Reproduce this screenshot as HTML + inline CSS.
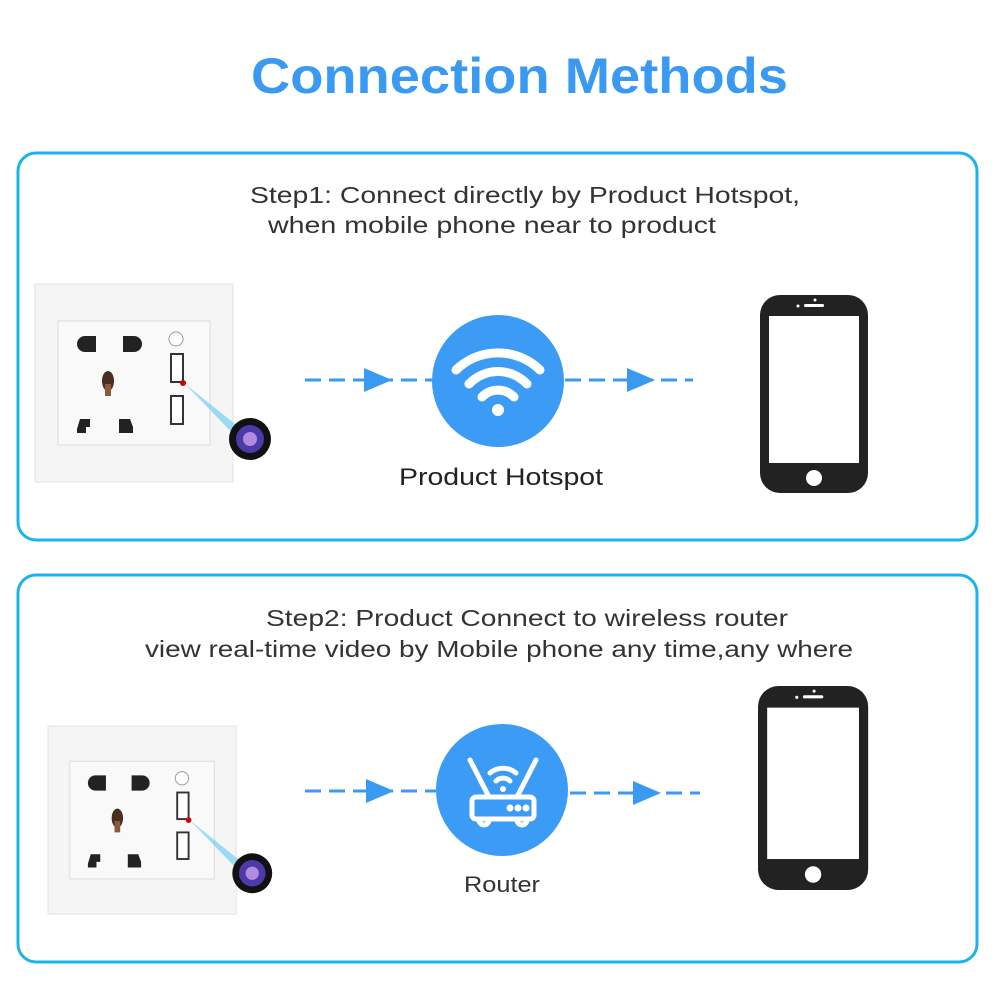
<!DOCTYPE html>
<html><head><meta charset="utf-8"><style>
html,body{margin:0;padding:0;background:#fff;width:1000px;height:1000px;overflow:hidden}
svg{display:block}
text{font-family:"Liberation Sans","DejaVu Sans",sans-serif}
</style></head><body>
<svg width="1000" height="1000" viewBox="0 0 1000 1000" xmlns="http://www.w3.org/2000/svg">
<defs>
<g id="sock">
  <rect x="0" y="0" width="198" height="198" fill="#f5f5f5" stroke="#e2e2e2"/>
  <rect x="23" y="37" width="152" height="124" fill="#f9f9f9" stroke="#dcdcdc"/>
  <path d="M50 52 h11 v16 h-11 a8 8 0 0 1 0-16z" fill="#222"/>
  <path d="M88 52 h11 a8 8 0 0 1 0 16 h-11z" fill="#222"/>
  <ellipse cx="73" cy="97" rx="6" ry="10" fill="#4a2f20"/>
  <rect x="70" y="100" width="6" height="12" fill="#8a5a3a"/>
  <path d="M42 145 l3-10 h10 v8 h-4 v6 h-9z" fill="#222"/>
  <path d="M84 135 h11 l3 8 v6 h-14z" fill="#222"/>
  <circle cx="141" cy="55" r="7" fill="#fff" stroke="#999"/>
  <rect x="136" y="70" width="12" height="28" fill="#fff" stroke="#333" stroke-width="2"/>
  <rect x="136" y="112" width="12" height="28" fill="#fff" stroke="#333" stroke-width="2"/>
  <circle cx="148" cy="99" r="3" fill="#c00"/>
  <path d="M149 99 L200 140 L210 162 Z" fill="#5ec8f5" opacity="0.6"/>
  <circle cx="215" cy="155" r="21" fill="#111"/>
  <circle cx="215" cy="155" r="14" fill="#4b3aa8"/>
  <circle cx="215" cy="155" r="7" fill="#b08be0"/>
</g>
<g id="phone">
  <rect x="0" y="0" width="108" height="198" rx="20" fill="#222"/>
  <rect x="9" y="21" width="90" height="147" fill="#fff"/>
  <circle cx="54" cy="183" r="8" fill="#fff"/>
  <rect x="44" y="9" width="20" height="3" rx="1.5" fill="#fff"/>
  <circle cx="38" cy="11" r="1.5" fill="#fff"/>
  <circle cx="55" cy="5" r="1.5" fill="#fff"/>
</g>
</defs>
<text x="251" y="93" font-size="50" font-weight="bold" fill="#3a9af2" textLength="537" lengthAdjust="spacingAndGlyphs">Connection Methods</text>

<rect x="18" y="153" width="959" height="387" rx="18" fill="none" stroke="#1cb3ec" stroke-width="3"/>
<rect x="18" y="575" width="959" height="387" rx="18" fill="none" stroke="#1cb3ec" stroke-width="3"/>

<text x="250" y="203" font-size="23" fill="#333" textLength="550" lengthAdjust="spacingAndGlyphs">Step1: Connect directly by Product Hotspot,</text>
<text x="268" y="233" font-size="23" fill="#333" textLength="448" lengthAdjust="spacingAndGlyphs">when mobile phone near to product</text>
<text x="266" y="626" font-size="23" fill="#333" textLength="522" lengthAdjust="spacingAndGlyphs">Step2: Product Connect to wireless router</text>
<text x="145" y="657" font-size="23" fill="#333" textLength="708" lengthAdjust="spacingAndGlyphs">view real-time video by Mobile phone any time,any where</text>

<use href="#sock" x="35" y="284"/>
<g transform="translate(48,726) scale(0.95)"><use href="#sock"/></g>

<use href="#phone" x="760" y="295"/>
<g transform="translate(758,686) scale(1.02,1.03)"><use href="#phone"/></g>

<g stroke="#3a9af2" stroke-width="3" stroke-dasharray="16,8" fill="none">
  <line x1="305" y1="380" x2="432" y2="380"/>
  <line x1="565" y1="380" x2="693" y2="380"/>
  <line x1="305" y1="791" x2="436" y2="791"/>
  <line x1="570" y1="793" x2="700" y2="793"/>
</g>
<g fill="#3a9af2">
  <path d="M364 368 L392 380 L364 392Z"/>
  <path d="M627 368 L655 380 L627 392Z"/>
  <path d="M366 779 L394 791 L366 803Z"/>
  <path d="M633 781 L661 793 L633 805Z"/>
</g>

<circle cx="498" cy="381" r="66" fill="#3c9bf5"/>
<g fill="none" stroke="#fff" stroke-width="9" stroke-linecap="round">
  <path d="M456 370 a60 60 0 0 1 84 0"/>
  <path d="M469 384 a40 40 0 0 1 58 0"/>
  <path d="M482 397 a22 22 0 0 1 32 0"/>
</g>
<circle cx="498" cy="410" r="6" fill="#fff"/>
<text x="399" y="485" font-size="24" fill="#222" textLength="204" lengthAdjust="spacingAndGlyphs">Product Hotspot</text>

<circle cx="502" cy="790" r="66" fill="#3c9bf5"/>
<g fill="none" stroke="#fff" stroke-width="5" stroke-linecap="round">
  <line x1="470" y1="760" x2="489" y2="797"/>
  <line x1="536" y1="760" x2="517" y2="797"/>
  <path d="M490 773 a20 20 0 0 1 26 0"/>
  <path d="M496 781 a10 10 0 0 1 14 0"/>
  <rect x="472" y="797" width="62" height="22" rx="4"/>
  <path d="M479 820 a5 5 0 0 0 10 0 M517 820 a5 5 0 0 0 10 0"/>
</g>
<g fill="#fff"><circle cx="510" cy="808" r="3.5"/><circle cx="518" cy="808" r="3.5"/><circle cx="526" cy="808" r="3.5"/><circle cx="503" cy="789" r="3"/></g>
<text x="464" y="892" font-size="22" fill="#333" textLength="76" lengthAdjust="spacingAndGlyphs">Router</text>
</svg>
</body></html>
